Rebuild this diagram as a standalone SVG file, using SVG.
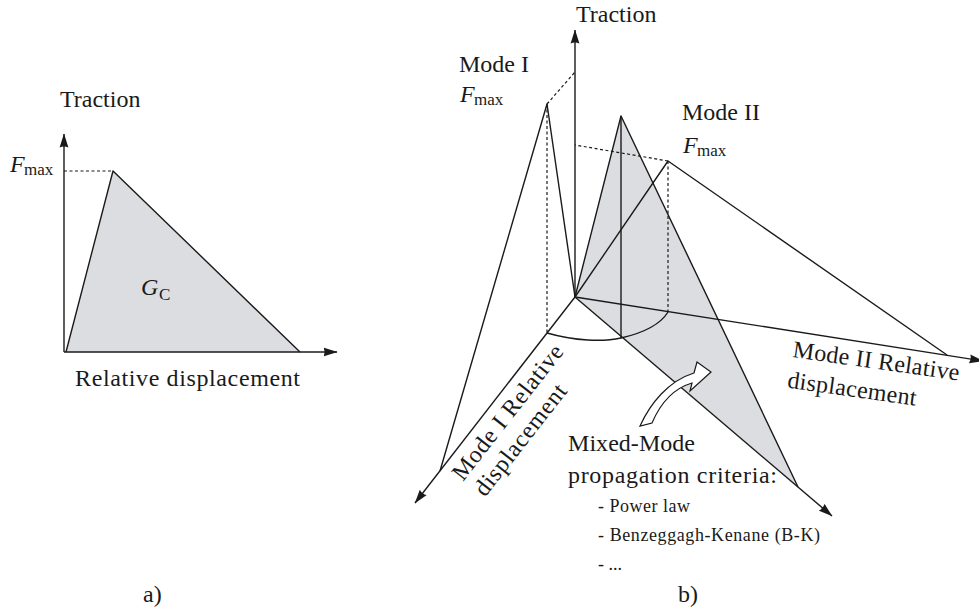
<svg xmlns="http://www.w3.org/2000/svg" width="979" height="611" viewBox="0 0 979 611">
<style>
.ln{stroke:#1a1a1a;stroke-width:1.4;fill:none;stroke-linejoin:round}
.ds{stroke:#1a1a1a;stroke-width:1.2;fill:none;stroke-dasharray:3,2.5}
.ar{stroke:#1a1a1a;stroke-width:1.4;fill:none;marker-end:url(#ah)}
.sh{fill:#dcdde0;stroke:none}
.tx{fill:#1a1a1a;font-size:24px;font-family:'Liberation Serif','DejaVu Serif','Noto Serif',Tinos,'Times New Roman',Times,'Nimbus Roman','FreeSerif',serif}
.it{font-style:italic}
.sub{font-size:17px}
.sm{font-size:18px}
</style>
<defs>
<marker id="ah" markerUnits="userSpaceOnUse" viewBox="0 0 14 10" refX="13.5" refY="5" markerWidth="14" markerHeight="10" orient="auto">
<path d="M0,0.6 L14,5 L0,9.4 Q2,5 0,0.6 Z" fill="#1a1a1a"/>
</marker>
</defs>

<g id="plot-a">
<polygon class="sh" points="66,352 113,171 300,352"/>
<g id="connectors-a">
<line class="ds" x1="64" y1="171" x2="113" y2="171"/>
<polyline class="ln" points="66,352 113,171 300,352"/>
<line class="ar" x1="64" y1="352" x2="64" y2="134"/>
<line class="ar" x1="64" y1="352" x2="337" y2="352"/>
</g>
<g class="tx">
<text x="60" y="107">Traction</text>
<text class="it" x="10" y="172">F</text><text class="sub" x="24" y="175">max</text>
<text class="it" x="141" y="295">G</text><text class="sub" x="159" y="300">C</text>
<text x="75" y="386" textLength="225" lengthAdjust="spacing">Relative displacement</text>
<text x="143" y="602">a)</text>
</g>
</g>

<g id="plot-b">
<polygon class="sh" points="621,116 575,297 798,487"/>
<g id="connectors-b">
<line class="ar" x1="575" y1="297" x2="575" y2="30"/>
<line class="ar" x1="575" y1="297" x2="415" y2="503"/>
<line class="ar" x1="575" y1="297" x2="983" y2="361"/>
<line class="ar" x1="575" y1="297" x2="832" y2="516"/>
<polyline class="ln" points="440,471 547,104 575,297"/>
<line class="ds" x1="547" y1="104" x2="547" y2="333"/>
<line class="ds" x1="547" y1="104" x2="575" y2="72"/>
<polyline class="ln" points="575,297 668,161 947,355"/>
<line class="ds" x1="668" y1="161" x2="668" y2="312"/>
<line class="ds" x1="668" y1="161" x2="575" y2="145"/>
<polyline class="ln" points="575,297 621,116 798,487"/>
<line class="ln" x1="621" y1="116" x2="621" y2="338"/>
<path class="ln" d="M547,333 C575,341 603,342 621,338 C643,333 660,325 668,312"/>
</g>
<g id="mixed-arrow">
<path d="M640,426 C650,404 668,381 694,373 L697,362 L711,372 L690,391 L692,383 C675,388 661,402 652,423 Z" fill="#ffffff" stroke="#1a1a1a" stroke-width="1.2" stroke-linejoin="miter"/>
</g>
<g class="tx">
<text x="576" y="22">Traction</text>
<text x="459" y="72">Mode I</text>
<text class="it" x="460" y="102">F</text><text class="sub" x="474" y="105">max</text>
<text x="682" y="120">Mode II</text>
<text class="it" x="683" y="153">F</text><text class="sub" x="697" y="156">max</text>
<g transform="translate(792,357) rotate(8)">
<text x="0" y="0" textLength="168" lengthAdjust="spacing">Mode II Relative</text>
<text x="-1" y="31" textLength="130" lengthAdjust="spacing">displacement</text>
</g>
<g transform="translate(463,482) rotate(-52)">
<text x="0" y="0" textLength="165" lengthAdjust="spacing">Mode I Relative</text>
<text x="1" y="27" textLength="135" lengthAdjust="spacing">displacement</text>
</g>
<text x="568" y="451" textLength="127" lengthAdjust="spacing">Mixed-Mode</text>
<text x="568" y="483" textLength="209" lengthAdjust="spacing">propagation criteria:</text>
<text class="sm" x="598" y="512" textLength="92" lengthAdjust="spacing">- Power law</text>
<text class="sm" x="598" y="541" textLength="222" lengthAdjust="spacing">- Benzeggagh-Kenane (B-K)</text>
<text class="sm" x="598" y="570">- ...</text>
<text x="678" y="602">b)</text>
</g>
</g>
</svg>
